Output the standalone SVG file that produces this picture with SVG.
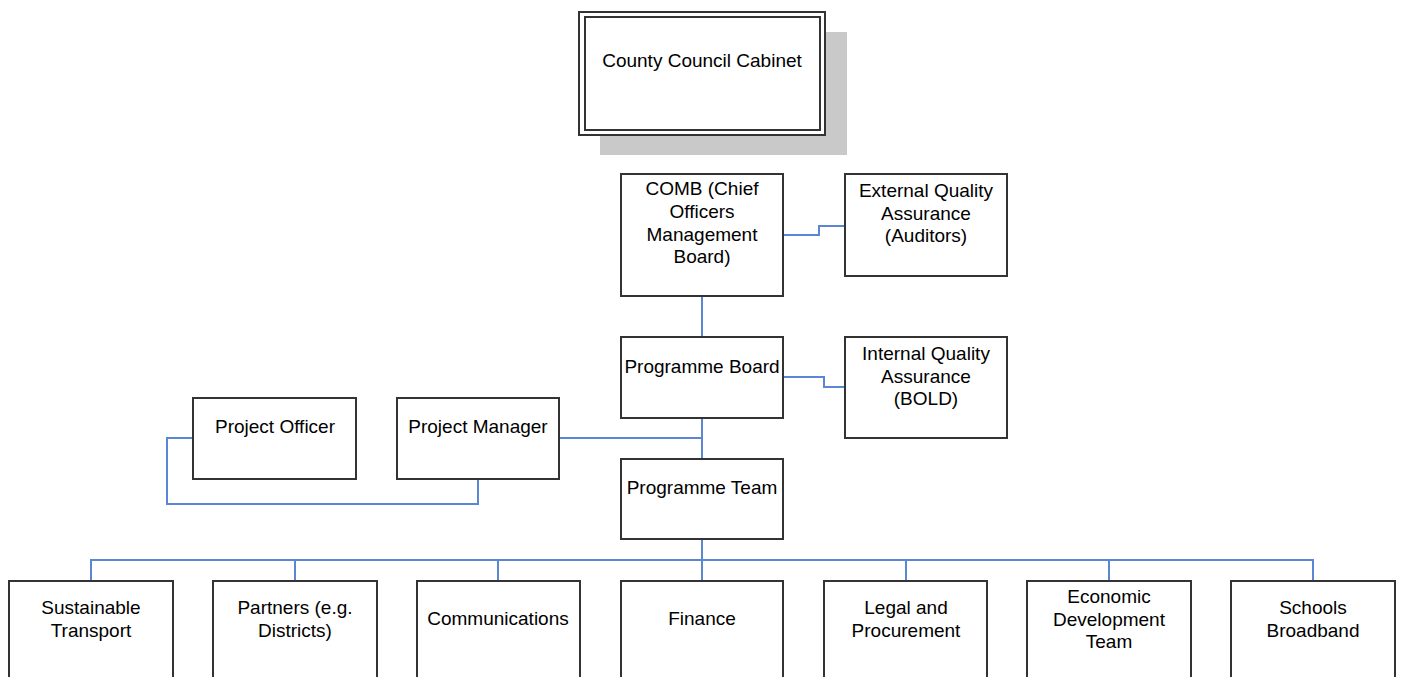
<svg xmlns="http://www.w3.org/2000/svg" width="1402" height="677" viewBox="0 0 1402 677">
<style>
.box{fill:#fff;stroke:#333;stroke-width:2}
.t{font-family:"Liberation Sans",Arial,sans-serif;font-size:19px;fill:#000;text-anchor:middle}
.c{fill:none;stroke:#5b86d3;stroke-width:2}
</style>
<rect width="1402" height="677" fill="#fff"/>
<g id="connectors">
<polyline class="c" points="783,235 819,235 819,226 845,226"/>
<polyline class="c" points="783,377 824,377 824,387 845,387"/>
<line class="c" x1="702" y1="296" x2="702" y2="337"/>
<line class="c" x1="702" y1="418" x2="702" y2="459"/>
<line class="c" x1="559" y1="438" x2="702" y2="438"/>
<polyline class="c" points="193,438 167,438 167,504 478,504 478,479"/>
<line class="c" x1="702" y1="539" x2="702" y2="581"/>
<polyline class="c" points="91,581 91,560 1313,560 1313,581"/>
<line class="c" x1="295" y1="560" x2="295" y2="581"/>
<line class="c" x1="498" y1="560" x2="498" y2="581"/>
<line class="c" x1="906" y1="560" x2="906" y2="581"/>
<line class="c" x1="1109" y1="560" x2="1109" y2="581"/>
</g>
<g id="cabinet">
<rect x="600" y="32" width="247" height="123" fill="#c9c9c9"/>
<rect x="579" y="12" width="246" height="123" fill="#fff" stroke="#333" stroke-width="2"/>
<rect x="585" y="17" width="235" height="113" fill="none" stroke="#333" stroke-width="2"/>
<text class="t" x="702" y="67">County Council Cabinet</text>
</g>
<g id="comb">
<rect class="box" x="621" y="174" width="162" height="122"/>
<text class="t" x="702" y="195">COMB (Chief</text>
<text class="t" x="702" y="218">Officers</text>
<text class="t" x="702" y="241">Management</text>
<text class="t" x="702" y="263">Board)</text>
</g>
<g id="external-qa">
<rect class="box" x="845" y="174" width="162" height="102"/>
<text class="t" x="926" y="197">External Quality</text>
<text class="t" x="926" y="220">Assurance</text>
<text class="t" x="926" y="242">(Auditors)</text>
</g>
<g id="programme-board">
<rect class="box" x="621" y="337" width="162" height="81"/>
<text class="t" x="702" y="373">Programme Board</text>
</g>
<g id="internal-qa">
<rect class="box" x="845" y="337" width="162" height="101"/>
<text class="t" x="926" y="360">Internal Quality</text>
<text class="t" x="926" y="383">Assurance</text>
<text class="t" x="926" y="405">(BOLD)</text>
</g>
<g id="project-officer">
<rect class="box" x="193" y="398" width="163" height="81"/>
<text class="t" x="275" y="433">Project Officer</text>
</g>
<g id="project-manager">
<rect class="box" x="397" y="398" width="162" height="81"/>
<text class="t" x="478" y="433">Project Manager</text>
</g>
<g id="programme-team">
<rect class="box" x="621" y="459" width="162" height="80"/>
<text class="t" x="702" y="494">Programme Team</text>
</g>
<g id="sustainable-transport">
<rect class="box" x="9" y="581" width="164" height="110"/>
<text class="t" x="91" y="614">Sustainable</text>
<text class="t" x="91" y="637">Transport</text>
</g>
<g id="partners">
<rect class="box" x="213" y="581" width="164" height="110"/>
<text class="t" x="295" y="614">Partners (e.g.</text>
<text class="t" x="295" y="637">Districts)</text>
</g>
<g id="communications">
<rect class="box" x="417" y="581" width="163" height="110"/>
<text class="t" x="498" y="625">Communications</text>
</g>
<g id="finance">
<rect class="box" x="621" y="581" width="162" height="110"/>
<text class="t" x="702" y="625">Finance</text>
</g>
<g id="legal">
<rect class="box" x="824" y="581" width="163" height="110"/>
<text class="t" x="906" y="614">Legal and</text>
<text class="t" x="906" y="637">Procurement</text>
</g>
<g id="economic">
<rect class="box" x="1027" y="581" width="164" height="110"/>
<text class="t" x="1109" y="603">Economic</text>
<text class="t" x="1109" y="626">Development</text>
<text class="t" x="1109" y="648">Team</text>
</g>
<g id="schools">
<rect class="box" x="1231" y="581" width="164" height="110"/>
<text class="t" x="1313" y="614">Schools</text>
<text class="t" x="1313" y="637">Broadband</text>
</g>
</svg>
